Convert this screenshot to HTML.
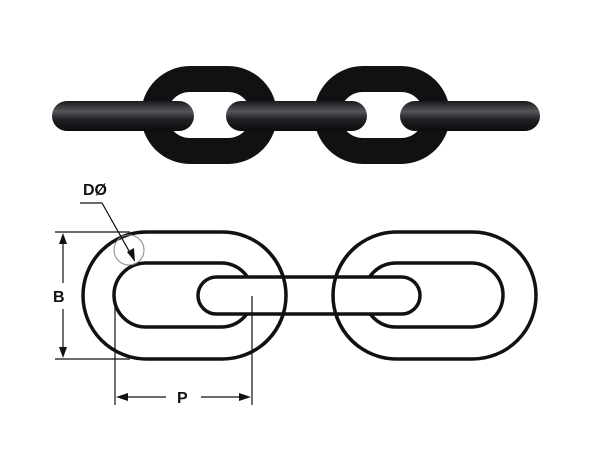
<!DOCTYPE html>
<html><head><style>body{margin:0;background:#fff}svg{display:block}</style></head><body>
<svg width="600" height="450" viewBox="0 0 600 450" xmlns="http://www.w3.org/2000/svg" font-family="Liberation Sans, sans-serif">
<defs>
<linearGradient id="h" x1="0" y1="0" x2="0" y2="1"><stop offset="0" stop-color="#1a1a1e"/><stop offset="0.35" stop-color="#55555a"/><stop offset="0.6" stop-color="#222226"/><stop offset="1" stop-color="#0c0c0e"/></linearGradient>
<clipPath id="cr"><rect x="262" y="0" width="100" height="450"/></clipPath>
<clipPath id="cl"><rect x="300" y="0" width="58" height="450"/></clipPath>
</defs>
<g fill="none" stroke="#111114">
<rect x="154" y="79" width="110" height="72" rx="36" stroke-width="26"/>
<rect x="327" y="79" width="110" height="72" rx="36" stroke-width="26"/>
</g>
<g fill="url(#h)">
<rect x="52" y="101" width="142" height="30" rx="15"/>
<rect x="226" y="101" width="141" height="30" rx="15"/>
<rect x="400" y="101" width="140" height="30" rx="15"/>
</g>
<g fill="none" stroke="#111" stroke-width="3.5">
<rect x="83" y="232" width="203" height="127" rx="63.5"/>
<rect x="114" y="263" width="139" height="64" rx="32"/>
<rect x="333" y="232" width="203" height="127" rx="63.5"/>
<rect x="364" y="263" width="139" height="64" rx="32"/>
<rect x="198" y="277" width="222" height="37" rx="18.5" fill="#fff"/>
<rect x="83" y="232" width="203" height="127" rx="63.5" clip-path="url(#cr)"/>
<rect x="333" y="232" width="203" height="127" rx="63.5" clip-path="url(#cl)"/>
</g>
<circle cx="129" cy="250" r="15" fill="none" stroke="#888" stroke-width="1"/>
<g stroke="#111" stroke-width="1.2" fill="none">
<line x1="55" y1="232" x2="130" y2="232"/>
<line x1="55" y1="359" x2="130" y2="359"/>
<line x1="63" y1="240" x2="63" y2="283"/>
<line x1="63" y1="309" x2="63" y2="351"/>
<line x1="115" y1="296" x2="115" y2="405"/>
<line x1="252" y1="296" x2="252" y2="405"/>
<line x1="124" y1="397" x2="166" y2="397"/>
<line x1="201" y1="397" x2="243" y2="397"/>
<polyline points="80,203 102,203 133,258"/>
</g>
<g fill="#111">
<polygon points="63,233 59,244 67,244"/>
<polygon points="63,358 59,347 67,347"/>
<polygon points="116,397 128,393 128,401"/>
<polygon points="251,397 239,393 239,401"/>
<polygon points="135,262 127,252 134,248"/>
</g>
<g font-weight="bold" font-size="16" fill="#111">
<text x="53" y="302">B</text>
<text x="177" y="403">P</text>
<text x="83" y="195">DØ</text>
</g>
</svg>
</body></html>
